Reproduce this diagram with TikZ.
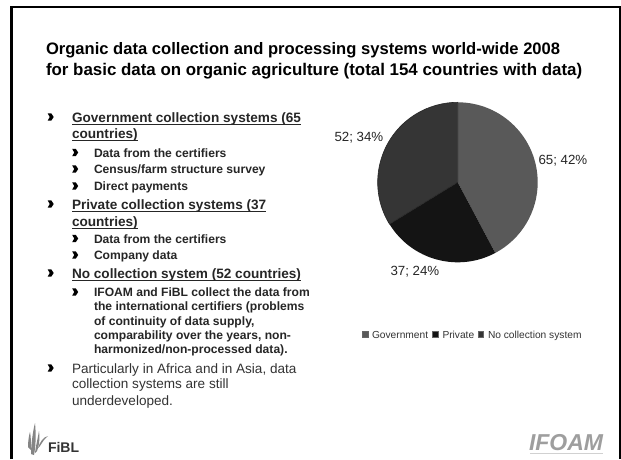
\documentclass[tikz,border=0pt]{standalone}
\usepackage{fontspec}
\setmainfont{Liberation Sans}
\newcommand{\myul}[1]{\setbox0\hbox{#1}\rlap{\rule[-2.4pt]{\wd0}{0.9pt}}\box0}
\tikzset{
  every node/.style={inner sep=0pt,outer sep=0pt,anchor=base west,text=black!90},
  titletext/.style={font=\fontsize{16.9}{18}\selectfont\bfseries,text=black},
  titletexta/.style={font=\fontsize{16.58}{18}\selectfont\bfseries,text=black},
  headtext/.style={font=\fontsize{13.6}{15}\selectfont\bfseries,text=black!85},
  plaintext/.style={font=\fontsize{13.55}{15}\selectfont,text=black!80},
  subtext/.style={font=\fontsize{12.1}{14}\selectfont\bfseries,text=black!85},
  charttext/.style={font=\fontsize{13.3}{15}\selectfont,text=black!85},
  legendtext/.style={font=\fontsize{10.2}{12}\selectfont,text=black!80},
  swatch/.style={draw=black!60,line width=0.3pt},
  pics/chev/.style={code={\fill[black] (-2.8,3.6) -- (0.8,3.6) -- (3.2,0) -- (0.8,-3.6) -- (-2.8,-3.6) -- (-0.8,0) -- cycle;}},
  streak/.style={fill=black!48,draw=none}
}
\definecolor{gov}{HTML}{595959}
\definecolor{priv}{HTML}{141414}
\definecolor{nosys}{HTML}{353535}
\begin{document}
\begin{tikzpicture}[x=1pt,y=1pt]
\useasboundingbox (0,0) rectangle (621,459);
\fill[white] (0,0) rectangle (621,459);
% frame
\draw[line width=2.3pt,black] (11.5,0) -- (11.5,452) -- (619.8,452) -- (619.8,0);
% title
\node[titletexta] (t1) at (46,404) {Organic data collection and processing systems world-wide 2008};
\node[titletext] (t2) at (46,384) {for basic data on organic agriculture (total 154 countries with data)};
% list
\pic at (50.5,342) {chev};
\node[headtext] (a1) at (72,337) {\myul{Government collection systems (65}};
\node[headtext] (a2) at (72,321) {\myul{countries)}};
\pic at (75,306.5) {chev};
\node[subtext] (b1) at (94,302) {Data from the certifiers};
\pic at (75,290) {chev};
\node[subtext] (b2) at (94,286) {Census/farm structure survey};
\pic at (75,273) {chev};
\node[subtext] (b3) at (94,269) {Direct payments};
\pic at (50.5,255) {chev};
\node[headtext] (a3) at (72,250) {\myul{Private collection systems (37}};
\node[headtext] (a4) at (72,233) {\myul{countries)}};
\pic at (75,220.5) {chev};
\node[subtext] (b4) at (94,216) {Data from the certifiers};
\pic at (75,204) {chev};
\node[subtext] (b5) at (94,200) {Company data};
\pic at (50.5,186) {chev};
\node[headtext] (a5) at (72,181) {\myul{No collection system (52 countries)}};
\pic at (75,167) {chev};
\node[subtext] (c1) at (94,163) {IFOAM and FiBL collect the data from};
\node[subtext] (c2) at (94,149) {the international certifiers (problems};
\node[subtext] (c3) at (94,134) {of continuity of data supply,};
\node[subtext] (c4) at (94,120) {comparability over the years, non-};
\node[subtext] (c5) at (94,106) {harmonized/non-processed data).};
\pic at (50.5,91) {chev};
\node[plaintext] (d1) at (72,86) {Particularly in Africa and in Asia, data};
\node[plaintext] (d2) at (72,71) {collection systems are still};
\node[plaintext] (d3) at (72,54) {underdeveloped.};
% pie
\coordinate (pc) at (457.7,276.7);
\fill[gov] (pc) -- ++(90:80) arc[start angle=90,end angle=-62,radius=80] -- cycle;
\fill[priv] (pc) -- ++(-62:80) arc[start angle=-62,end angle=-148.5,radius=80] -- cycle;
\fill[nosys] (pc) -- ++(-148.5:80) arc[start angle=-148.5,end angle=-270,radius=80] -- cycle;
\draw[black!85,line width=0.6pt] (pc) -- ++(-148.5:80) arc[start angle=-148.5,end angle=-270,radius=80] -- (pc);
\node[charttext] (l1) at (538.5,295) {65; 42\%};
\node[charttext] (l2) at (390.5,184) {37; 24\%};
\node[charttext] (l3) at (334.5,318) {52; 34\%};
% legend
\filldraw[swatch,fill=gov] (362.5,122) rectangle (368,127.5);
\node[legendtext] (k1) at (372,121) {Government};
\filldraw[swatch,fill=priv] (432.5,122) rectangle (438,127.5);
\node[legendtext] (k2) at (442.5,121) {Private};
\filldraw[swatch,fill=nosys] (478,122) rectangle (483.5,127.5);
\node[legendtext] (k3) at (488,121) {No collection system};
% FiBL logo
\fill[streak] (28,12) .. controls (28,18) and (29,24) .. (30,27) .. controls (31,22) and (31,16) .. (31,9) -- cycle;
\fill[streak] (31,5) .. controls (31,15) and (33,28) .. (35,36) .. controls (36,26) and (36,14) .. (34,4) -- cycle;
\fill[streak] (35,6) .. controls (36,14) and (38,22) .. (39,28) .. controls (40,20) and (39,12) .. (37,8) -- cycle;
\fill[streak] (38,11) .. controls (40,17) and (43,22) .. (48,23) .. controls (44,20) and (42,16) .. (40,13) -- cycle;
\node[font=\fontsize{14}{15}\selectfont\bfseries,text=black!80] (fibl) at (48,7) {FiBL};
% IFOAM logo
\node[font=\fontsize{23}{24}\selectfont\bfseries\itshape,text=black!38] (ifoam) at (529,9) {IFOAM};
\draw[black!18,line width=1.2pt] (530,5.5) -- (603,5.5);
\end{tikzpicture}
\end{document}
